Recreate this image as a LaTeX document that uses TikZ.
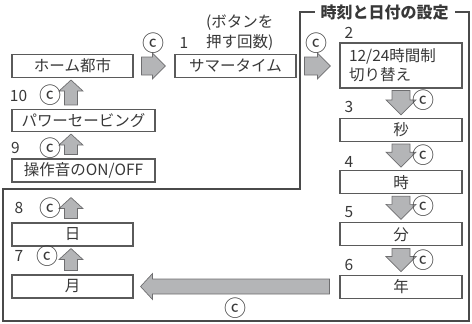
\documentclass[tikz,border=0pt]{standalone}
\usepackage{fontspec}
\setmainfont{Noto Sans CJK JP}
\usetikzlibrary{calc}

\definecolor{boxline}{HTML}{5A5A5A}
\definecolor{textcol}{HTML}{383838}
\definecolor{arrowfill}{HTML}{B4B5B7}
\definecolor{arrowline}{HTML}{6E6E70}
\definecolor{framecol}{HTML}{4A4A4A}

\tikzset{
  btail/.store in=\btail, bgap/.store in=\bgap, bshaft/.store in=\bshaft,
  bhead/.store in=\bhead, bheadlen/.store in=\bheadlen,
  btail=3pt, bgap=3pt, bshaft=9pt, bhead=13pt, bheadlen=13pt,
  blk/.style={draw=arrowline, fill=arrowfill, line width=0.7pt,
    to path={let \p1=($(\tikztostart)!\btail!(\tikztotarget)$),
      \p2=($(\tikztotarget)!\bgap!(\tikztostart)$),
      \p3=($(\p2)!\bheadlen!(\p1)$) in
      ($(\p1)!\bshaft!90:(\p2)$) -- ($(\p3)!\bshaft!-90:(\p1)$)
      -- ($(\p3)!\bhead!-90:(\p1)$) -- (\p2)
      -- ($(\p3)!\bhead!90:(\p1)$) -- ($(\p3)!\bshaft!90:(\p1)$)
      -- ($(\p1)!\bshaft!-90:(\p2)$) -- cycle}},
  rgt/.style={blk, btail=8pt, bgap=9pt, bshaft=9pt, bhead=13pt, bheadlen=13pt},
  dwn/.style={blk, btail=2pt, bgap=3pt, bshaft=9pt, bhead=15pt, bheadlen=15pt},
  upw/.style={blk, btail=4pt, bgap=2pt, bshaft=6.5pt, bhead=12pt, bheadlen=11pt},
  box/.style={draw=boxline, line width=1.1pt, minimum height=23pt, text=textcol, inner sep=0pt},
  num/.style={text=textcol, inner sep=0pt},
  cmark/.style={num, font=\fontsize{22}{22}\selectfont},
  frame/.style={draw=framecol, line width=1.4pt}
}

\begin{document}
\begin{tikzpicture}[x=1pt,y=-1pt,font=\fontsize{15.5}{19}\selectfont]
\useasboundingbox (0,0) rectangle (472,324);

\draw[frame] (300,12) -- (469,12) -- (469,321) -- (3,321) -- (3,189) -- (300,189) -- cycle;
\node[fill=white, inner xsep=6pt, inner ysep=0pt, text=textcol, font=\fontsize{16}{19}\selectfont\bfseries] (title) at (384.5,12) {時刻と日付の設定};

\node[box, minimum width=121pt] (home) at (72.5,66) {ホーム都市};
\node[box, minimum width=121pt] (summer) at (235.5,66) {サマータイム};
\node[box, minimum width=122pt, minimum height=45pt, text width=104pt, inner xsep=9pt, align=left] (h1224) at (401,65.5) {12/24時間制\\切り替え};
\node[box, minimum width=122pt] (sec) at (401,130) {秒};
\node[box, minimum width=122pt] (hour) at (401,182.2) {時};
\node[box, minimum width=122pt] (min) at (401,234.4) {分};
\node[box, minimum width=122pt] (year) at (401,286.6) {年};
\node[box, minimum width=143pt, minimum height=22pt] (power) at (83.5,120.5) {パワーセービング};
\node[box, minimum width=143pt] (sound) at (83.5,170.5) {操作音のON/OFF};
\node[box, minimum width=121pt] (day) at (72.5,234.5) {日};
\node[box, minimum width=121pt] (month) at (72.5,286.5) {月};

\node[num, anchor=west, align=left, font=\fontsize{15.5}{20}\selectfont] (count) at (206,33) {(ボタンを\\押す回数)};

\coordinate (ux) at (71,0);
\draw[rgt] (home.east) to (summer.west);
\draw[rgt] (summer.east) to (summer.east -| h1224.west);
\foreach \a/\b in {h1224/sec, sec/hour, hour/min, min/year}
  \draw[dwn] (\a.south) to (\b.north);
\draw[blk, btail=10pt, bgap=7pt, bshaft=7.5pt, bhead=13pt, bheadlen=12pt] (year.west) to (month.east);
\draw[upw] (month.north -| ux) to (day.south -| ux);
\draw[upw, bgap=15pt] (day.north -| ux) to (sound.south -| ux);
\draw[upw] (sound.north -| ux) to (power.south -| ux);
\draw[upw] (power.north -| ux) to (home.south -| ux);

\node[num] (n1) at (184,43) {1};
\node[num] (n2) at (349,33) {2};
\node[num] (n3) at (349,107) {3};
\node[num] (n4) at (349,162) {4};
\node[num] (n5) at (349,212) {5};
\node[num] (n6) at (349,265) {6};
\node[num] (n7) at (19,256) {7};
\node[num] (n8) at (19,208) {8};
\node[num] (n9) at (15.5,148) {9};
\node[num] (n10) at (18.5,96) {10};

\node[cmark] (c1) at (153,43) {ⓒ};
\node[cmark] (c2) at (316,43) {ⓒ};
\node[cmark] (c3) at (423,100) {ⓒ};
\node[cmark] (c4) at (423,155) {ⓒ};
\node[cmark] (c5) at (423,206) {ⓒ};
\node[cmark] (c6) at (423,260) {ⓒ};
\node[cmark] (c7) at (235,308) {ⓒ};
\node[cmark] (c8) at (48,256) {ⓒ};
\node[cmark] (c9) at (50,208) {ⓒ};
\node[cmark] (c10) at (50,148) {ⓒ};
\node[cmark] (c11) at (50,95) {ⓒ};
\end{tikzpicture}
\end{document}
